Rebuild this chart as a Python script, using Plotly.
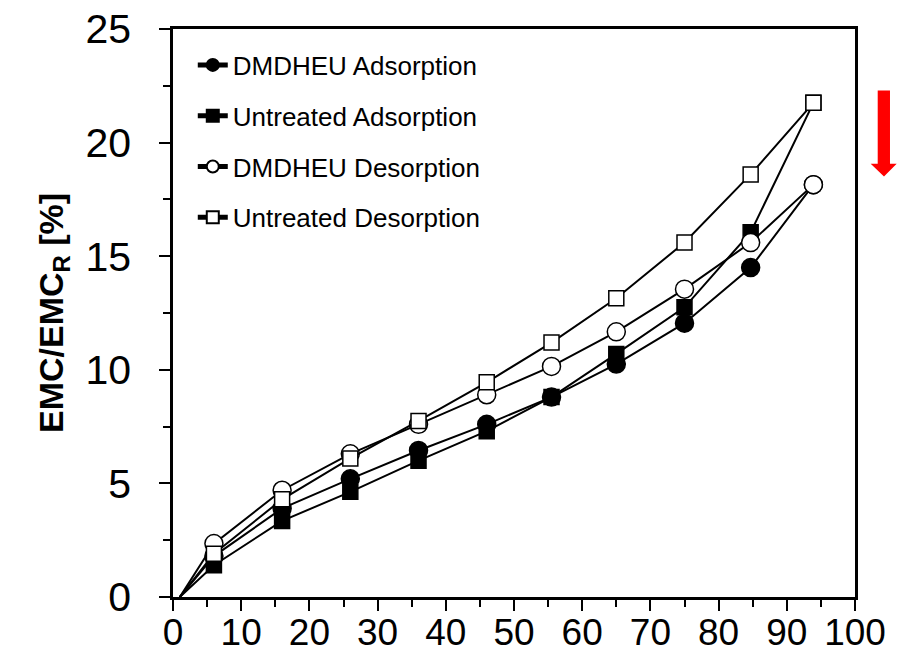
import plotly.graph_objects as go

# ---- data ----
rh = [1, 6, 16, 26, 36, 46, 55.5, 65, 75, 84.7, 93.9]
dmdheu_ads = [0, 1.8, 3.9, 5.2, 6.45, 7.6, 8.8, 10.25, 12.05, 14.5, 18.15]
untreated_ads = [0, 1.4, 3.35, 4.63, 6.0, 7.3, 8.8, 10.7, 12.75, 16.05, 21.75]
dmdheu_des = [0, 2.35, 4.7, 6.3, 7.6, 8.9, 10.15, 11.67, 13.55, 15.6, 18.15]
untreated_des = [0, 1.9, 4.3, 6.1, 7.75, 9.45, 11.2, 13.15, 15.6, 18.6, 21.75]

series_names = ["DMDHEU Adsorption", "Untreated Adsorption",
                "DMDHEU Desorption", "Untreated Desorption"]
series_values = [dmdheu_ads, untreated_ads, dmdheu_des, untreated_des]
symbols = ["circle", "square", "circle", "square"]
fills = ["black", "black", "white", "white"]
base_sizes = [18, 15, 18, 15]

x_ticks = [0, 10, 20, 30, 40, 50, 60, 70, 80, 90, 100]
y_ticks = [0, 5, 10, 15, 20, 25]

W, H = 912, 665
L, R, T, B = 172.7, 57, 29.3, 68.3
FONT = "Liberation Sans, Arial, sans-serif"

fig = go.Figure()
for i, (name, vals) in enumerate(zip(series_names, series_values)):
    sizes = [0] + [base_sizes[i]] * (len(vals) - 1)
    fig.add_trace(go.Scatter(
        x=rh, y=vals, name=name, mode="lines+markers",
        legendgroup=name,
        line=dict(color="black", width=2),
        marker=dict(symbol=symbols[i], size=sizes, color=fills[i], opacity=1,
                    line=dict(color="black", width=1.5)),
        cliponaxis=False,
    ))

def px2paper(px, py):
    return (px - L) / (W - L - R), (H - B - py) / (H - T - B)

# red arrow (decoration outside the plot area)
pts = [(877.7, 90.7), (890, 90.7), (890, 164), (896.7, 164), (884, 176.7),
       (870.7, 164), (877.7, 164)]
pp = [px2paper(a, b) for a, b in pts]
path = "M " + " L ".join(f"{a:.4f},{b:.4f}" for a, b in pp) + " Z"
fig.add_shape(type="path", path=path, xref="paper", yref="paper",
              fillcolor="#ff0000", line=dict(color="#ff0000", width=0))

axis_common = dict(showline=True, linecolor="black", linewidth=2.5, mirror=True,
                   ticks="outside", ticklen=11, tickwidth=2, tickcolor="black",
                   showgrid=False, zeroline=False, automargin=False)

fig.update_xaxes(range=[0, 100], tickvals=x_ticks, ticktext=[str(v) for v in x_ticks],
                 minor=dict(dtick=5, tick0=0, ticks="outside", ticklen=7, tickwidth=2,
                            tickcolor="black", showgrid=False),
                 tickfont=dict(family=FONT, size=37, color="black"),
                 ticklabelstandoff=-10, **axis_common)
fig.update_yaxes(range=[0, 25], tickvals=y_ticks, ticktext=[str(v) for v in y_ticks],
                 minor=dict(dtick=2.5, tick0=0, ticks="outside", ticklen=7, tickwidth=2,
                            tickcolor="black", showgrid=False),
                 tickfont=dict(family=FONT, size=41, color="black"),
                 ticklabelstandoff=20,
                 title=dict(text="<b>EMC/EMC<sub>R</sub> [%]</b>", standoff=12,
                            font=dict(family=FONT, size=34, color="black")),
                 **axis_common)

fig.update_layout(
    width=W, height=H,
    margin=dict(l=L, r=R, t=T, b=B, pad=0),
    plot_bgcolor="white", paper_bgcolor="white",
    showlegend=True,
    legend=dict(x=0.029, y=0.978, xanchor="left", yanchor="top",
                bgcolor="rgba(0,0,0,0)", borderwidth=0,
                font=dict(family=FONT, size=26, color="black"),
                itemsizing="constant", traceorder="grouped", tracegroupgap=14),
)

fig.write_html("out.html")
